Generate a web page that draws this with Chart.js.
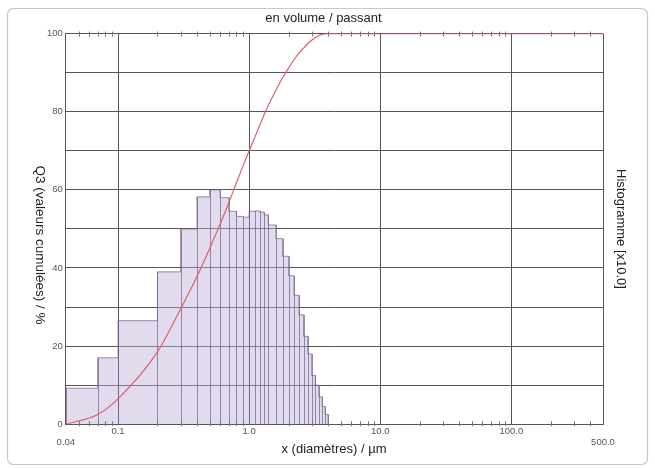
<!DOCTYPE html>
<html>
<head>
<meta charset="utf-8">
<script src="https://cdn.jsdelivr.net/npm/chart.js@4.4.0/dist/chart.umd.min.js"></script>
<style>
html, body { margin: 0; padding: 0; background: #fff; }
#wrap { width: 655px; height: 468px; position: relative; }
</style>
</head>
<body>
<div id="wrap"><canvas id="myChart"></canvas></div>
<script>
// class limits (µm) of the histogram
const classEdges = [0.04, 0.07, 0.1, 0.2, 0.3, 0.4, 0.5, 0.6, 0.7, 0.8, 0.9, 1.0,
    1.1, 1.2, 1.3, 1.4, 1.6, 1.8, 2.0, 2.2, 2.4, 2.6, 2.8, 3.0, 3.2, 3.4, 3.6, 3.8, 4.0];
// histogram height of each class [x10.0]
const histogram = [9.2, 17, 26.5, 39, 50, 58.2, 60, 58, 54.5, 53.2, 53,
    54.5, 54.6, 54.3, 53.6, 51, 47.5, 43, 38, 33, 28, 22.5, 18, 12.5, 10, 7, 4.5, 2.5];
// cumulative passing Q3 (%)
const cumulSizes = [0.04, 0.07, 0.1, 0.2, 0.3, 0.4, 0.5, 0.6, 0.7, 0.8, 0.9, 1.0,
    1.1, 1.2, 1.3, 1.4, 1.6, 1.8, 2.0, 2.2, 2.4, 2.6, 2.8, 3.0, 3.2, 3.4, 3.6, 3.8, 4.0, 500];
const cumulValues = [0, 2.5, 6.5, 18.5, 29.5, 37.8, 45, 51.2, 56.7, 61.8, 66.2, 70,
    73.3, 76.4, 79.2, 81.6, 85.5, 88.7, 91.2, 93.3, 95, 96.3, 97.4, 98.3, 99, 99.5, 99.8, 99.95, 100, 100];
const xTicks = [0.04, 0.1, 1, 10, 100, 500];

const FONT = '"Liberation Sans", Arial, sans-serif';
const GRID = '#555';

const histPoints = classEdges.map((x, i) => ({x: x, y: i < histogram.length ? histogram[i] : 0}));
const cumulPoints = cumulSizes.map((x, i) => ({x: x, y: cumulValues[i]}));

const decor = {
    id: 'decor',
    beforeDraw(chart) {
        const c = chart.ctx;
        c.save();
        c.fillStyle = '#fff';
        c.fillRect(0, 0, chart.width, chart.height);
        c.strokeStyle = '#c8c8c8';
        c.lineWidth = 1.2;
        c.beginPath();
        c.roundRect(7.5, 8.5, 640, 456, 6);
        c.stroke();
        c.restore();
    },
    afterDatasetDraw(chart, args) {
        if (args.index !== 1) return;
        // inner edges of the histogram classes
        const x = chart.scales.x, y = chart.scales.y, c = chart.ctx;
        c.save();
        c.strokeStyle = 'rgba(105,90,130,0.85)';
        c.lineWidth = 0.8;
        for (let i = 0; i < classEdges.length; i++) {
            const hl = i > 0 ? histogram[i - 1] : 0;
            const hr = i < histogram.length ? histogram[i] : 0;
            const px = Math.round(x.getPixelForValue(classEdges[i])) + 0.5;
            c.beginPath();
            c.moveTo(px, y.getPixelForValue(0));
            c.lineTo(px, y.getPixelForValue(Math.max(hl, hr)));
            c.stroke();
        }
        c.restore();
    },
    afterDraw(chart) {
        const x = chart.scales.x, a = chart.chartArea, c = chart.ctx;
        c.save();
        // minor log ticks on top and bottom edges
        c.strokeStyle = '#777';
        c.lineWidth = 1;
        for (let d = 0.01; d < 1000; d *= 10) {
            for (let m = 2; m <= 9; m++) {
                const v = m * d;
                if (v <= 0.04 || v >= 500) continue;
                const px = Math.round(x.getPixelForValue(v)) + 0.5;
                c.beginPath();
                c.moveTo(px, a.top - 2); c.lineTo(px, a.top + 3);
                c.moveTo(px, a.bottom - 3); c.lineTo(px, a.bottom + 2);
                c.stroke();
            }
        }
        // axis titles
        c.fillStyle = '#222';
        c.textAlign = 'center';
        c.textBaseline = 'middle';
        c.font = '13px ' + FONT;
        c.fillText('x (diamètres) / µm', 334, 449);
        c.save();
        c.translate(40, 245);
        c.rotate(Math.PI / 2);
        c.font = '13.5px ' + FONT;
        c.fillText('Q3 (valeurs cumulées) / %', 0, 0);
        c.restore();
        c.save();
        c.translate(621, 229);
        c.rotate(Math.PI / 2);
        c.font = '13px ' + FONT;
        c.fillText('Histogramme [x10.0]', 0, 0);
        c.restore();
        c.restore();
    }
};

const ctx = document.getElementById('myChart');

new Chart(ctx, {
    type: 'line',
    data: {
        datasets: [{
            label: 'Q3',
            data: cumulPoints,
            borderColor: 'rgb(222, 96, 106)',
            borderWidth: 1.2,
            pointRadius: 0,
            cubicInterpolationMode: 'monotone',
            fill: false,
            order: 0
        }, {
            label: 'Histogramme',
            data: histPoints,
            stepped: 'before',
            fill: 'origin',
            backgroundColor: 'rgba(190, 176, 214, 0.45)',
            borderColor: 'rgba(105, 90, 130, 0.85)',
            borderWidth: 0.8,
            pointRadius: 0,
            order: 1
        }]
    },
    options: {
        responsive: true,
        maintainAspectRatio: false,
        animation: false,
        layout: {
            padding: {left: 44, right: 52, top: 0, bottom: 19}
        },
        plugins: {
            legend: {display: false},
            tooltip: {enabled: false},
            title: {
                display: true,
                text: 'en volume / passant',
                color: '#222',
                font: {family: FONT, size: 13, weight: 'normal'},
                padding: {top: 11, bottom: 7}
            }
        },
        scales: {
            x: {
                type: 'logarithmic',
                min: 0.04,
                max: 500,
                afterBuildTicks: (scale) => {
                    scale.ticks = xTicks.map(v => ({value: v}));
                },
                ticks: {
                    autoSkip: false,
                    maxRotation: 0,
                    padding: 1,
                    color: '#555',
                    font: {family: FONT, size: 9.5},
                    callback: (v) => {
                        if (v === 0.04) return ['', '0.04'];
                        if (v === 500) return ['', '500.0'];
                        if (v === 0.1) return '0.1';
                        return Number(v).toFixed(1);
                    }
                },
                grid: {color: GRID, lineWidth: 1, drawTicks: false},
                border: {display: true, color: GRID}
            },
            y: {
                min: 0,
                max: 100,
                ticks: {
                    stepSize: 10,
                    padding: 3,
                    color: '#555',
                    font: {family: FONT, size: 9.5},
                    callback: (v) => (v % 20 === 0 ? v : '')
                },
                grid: {color: GRID, lineWidth: 1, drawTicks: false},
                border: {display: true, color: GRID}
            }
        }
    },
    plugins: [decor]
});
</script>
</body>
</html>
